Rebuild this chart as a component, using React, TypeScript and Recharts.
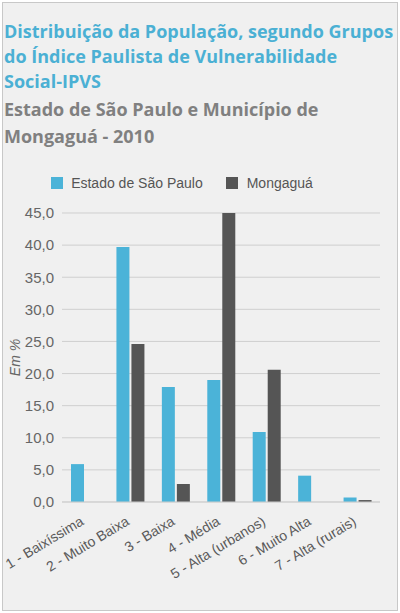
import React from 'react';
import { BarChart, Bar, XAxis, YAxis, CartesianGrid } from 'recharts';

const categories = [
  '1 - Baixíssima',
  '2 - Muito Baixa',
  '3 - Baixa',
  '4 - Média',
  '5 - Alta (urbanos)',
  '6 - Muito Alta',
  '7 - Alta (rurais)',
];
const estadoValues = [5.9, 39.7, 17.9, 19.0, 10.9, 4.1, 0.7];
const mongaguaValues = [0, 24.6, 2.8, 45.0, 20.6, 0, 0.3];
const yTicks = [0, 5, 10, 15, 20, 25, 30, 35, 40, 45];

const BLUE = '#4bb3d8';
const DARK = '#555555';
const FONT = "'Liberation Sans', Arial, sans-serif";

const data = categories.map((name, i) => ({
  name,
  estado: estadoValues[i],
  mongagua: mongaguaValues[i],
}));

const fmt = (v: number) => v.toFixed(1).replace('.', ',');

const AngledTick = (props: any) => {
  const { x, y, payload } = props;
  const ty = y + 14;
  return (
    <text
      x={x}
      y={ty}
      textAnchor="end"
      fontSize={14}
      fill="#5a5a5a"
      fontFamily={FONT}
      transform={`rotate(-31, ${x}, ${ty})`}
    >
      {payload.value}
    </text>
  );
};

export default function App() {
  return (
    <div
      style={{
        position: 'absolute',
        left: 0,
        top: 0,
        width: 400,
        height: 613,
        background: '#fff',
      }}
    >
      <div
        style={{
          position: 'absolute',
          left: 2,
          top: 2,
          width: 394,
          height: 607,
          border: '1px solid #c8c8c8',
          background: '#f0f0f0',
        }}
      />
      <div
        style={{
          position: 'absolute',
          left: 4,
          top: 19,
          width: 392,
          fontFamily: "'Open Sans', sans-serif",
          fontWeight: 700,
          fontSize: 18,
          lineHeight: '25px',
          color: '#4bb0d4',
        }}
      >
        Distribuição da População, segundo Grupos do Índice Paulista de Vulnerabilidade Social-IPVS
      </div>
      <div
        style={{
          position: 'absolute',
          left: 4,
          top: 96,
          width: 380,
          fontFamily: "'Open Sans', sans-serif",
          fontWeight: 700,
          fontSize: 18,
          lineHeight: '27px',
          color: '#808080',
        }}
      >
        Estado de São Paulo e Município de Mongaguá - 2010
      </div>
      <div
        style={{
          position: 'absolute',
          left: -18,
          top: 174,
          width: 400,
          display: 'flex',
          justifyContent: 'center',
          fontFamily: FONT,
          fontSize: 14,
          color: '#555',
          lineHeight: '18px',
        }}
      >
        <span style={{ display: 'flex', alignItems: 'center', marginRight: 23 }}>
          <span style={{ width: 12, height: 12, background: BLUE, marginRight: 8 }} />
          Estado de São Paulo
        </span>
        <span style={{ display: 'flex', alignItems: 'center' }}>
          <span style={{ width: 12, height: 12, background: DARK, marginRight: 9 }} />
          Mongaguá
        </span>
      </div>
      <div style={{ position: 'absolute', left: 0, top: 200 }}>
        <BarChart
          width={400}
          height={410}
          data={data}
          margin={{ top: 13, right: 20, bottom: 0, left: 0 }}
          barGap={2}
          barSize={13}
        >
          <CartesianGrid vertical={false} stroke="#cfcfcf" />
          <XAxis
            dataKey="name"
            interval={0}
            tickLine={false}
            axisLine={{ stroke: '#cfcfcf' }}
            height={108}
            tick={<AngledTick />}
          />
          <YAxis
            domain={[0, 45]}
            ticks={yTicks}
            tickFormatter={fmt}
            width={62}
            axisLine={false}
            tickLine={false}
            tick={{ fontSize: 15, fill: '#666', fontFamily: FONT }}
            label={{
              value: 'Em %',
              angle: -90,
              position: 'insideLeft',
              offset: 15,
              style: {
                fontSize: 14,
                fontStyle: 'italic',
                fill: '#666',
                fontFamily: FONT,
                textAnchor: 'middle',
              },
            }}
          />
          <Bar dataKey="estado" fill={BLUE} isAnimationActive={false} />
          <Bar dataKey="mongagua" fill={DARK} isAnimationActive={false} />
        </BarChart>
      </div>
    </div>
  );
}
